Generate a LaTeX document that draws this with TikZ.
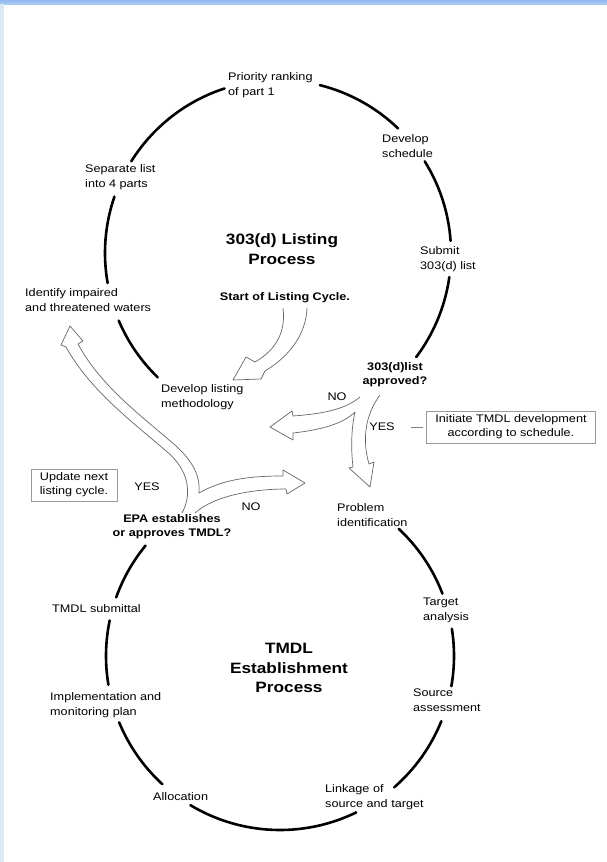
\documentclass[tikz,border=0pt]{standalone}
\usepackage{fontspec}
\setmainfont[FakeStretch=1.15]{Liberation Sans}
\definecolor{barblue}{HTML}{A6CDEF}
\definecolor{stripblue}{HTML}{DCE8F2}
\begin{document}
\begin{tikzpicture}[x=1pt,y=-1pt,
  lbl/.style={font=\fontsize{11}{15}\selectfont, align=left, inner sep=0pt},
  blbl/.style={font=\fontsize{11}{14}\selectfont\bfseries, align=center, inner sep=0pt},
  title/.style={font=\fontsize{15}{19.5}\selectfont\bfseries, align=center, inner sep=0pt},
  notebox/.style={draw=black!40, line width=0.6pt, font=\fontsize{11}{14}\selectfont, inner xsep=9pt, inner ysep=4pt},
  cycarc/.style={line width=2.6pt, line cap=round},
  blockarrow/.style={draw=black!60, line width=0.7pt, fill=white, line join=round}]

% page and frame
\useasboundingbox (0,0) rectangle (607,862);
\fill[white] (0,0) rectangle (607,862);
\shade[top color=barblue!90!blue, bottom color=barblue] (0,0) rectangle (607,4);
\fill[stripblue] (0,4) rectangle (4,862);

% circle centres
\coordinate (upc) at (278,253);
\coordinate (loc) at (280,656);

% listing cycle labels
\node[title] (listtitle) at (282,249) {303(d) Listing\\Process};
\node[blbl] (startcycle) at (285,298) {Start of Listing Cycle.};
\node[lbl, anchor=west] (priority) at (228,85) {Priority ranking\\of part 1};
\node[lbl, anchor=west] (schedule) at (382,146) {Develop\\schedule};
\node[lbl, anchor=west] (submit) at (420,259) {Submit\\303(d) list};
\node[blbl] (approved) at (395,375) {303(d)list\\approved?};
\node[lbl, anchor=west] (separate) at (85,177) {Separate list\\into 4 parts};
\node[lbl, anchor=west] (identify) at (25,300) {Identify impaired\\and threatened waters};
\node[lbl, anchor=west] (method) at (161,397) {Develop listing\\methodology};

% listing cycle arcs
\draw[cycarc] ([shift={(-76:173)}]upc) arc[start angle=-76, end angle=-46, radius=173];
\draw[cycarc] ([shift={(-32:173)}]upc) arc[start angle=-32, end angle=-4, radius=173];
\draw[cycarc] ([shift={(8:173)}]upc) arc[start angle=8, end angle=37, radius=173];
\draw[cycarc] ([shift={(-108:173)}]upc) arc[start angle=-108, end angle=-148, radius=173];
\draw[cycarc] ([shift={(-161:173)}]upc) arc[start angle=-161, end angle=-190, radius=173];
\draw[cycarc] ([shift={(-203:173)}]upc) arc[start angle=-203, end angle=-226, radius=173];

% establishment labels
\node[title] (tmdltitle) at (289,668) {TMDL\\Establishment\\Process};
\node[lbl, anchor=west] (problem) at (337,515) {Problem\\identification};
\node[lbl, anchor=west] (target) at (423,610) {Target\\analysis};
\node[lbl, anchor=west] (source) at (413,700) {Source\\assessment};
\node[lbl, anchor=west] (linkage) at (325,797) {Linkage of\\source and target};
\node[lbl, anchor=west] (allocation) at (153,797) {Allocation};
\node[lbl, anchor=west] (implement) at (50,705) {Implementation and\\monitoring plan};
\node[lbl, anchor=west] (submittal) at (52,609) {TMDL submittal};
\node[blbl] (epa) at (172,527) {EPA establishes\\or approves TMDL?};

% establishment arcs
\draw[cycarc] ([shift={(-47:174)}]loc) arc[start angle=-47, end angle=-21, radius=174];
\draw[cycarc] ([shift={(-9:174)}]loc) arc[start angle=-9, end angle=10, radius=174];
\draw[cycarc] ([shift={(22:174)}]loc) arc[start angle=22, end angle=49, radius=174];
\draw[cycarc] ([shift={(64:174)}]loc) arc[start angle=64, end angle=121, radius=174];
\draw[cycarc] ([shift={(132.5:174)}]loc) arc[start angle=132.5, end angle=157.6, radius=174];
\draw[cycarc] ([shift={(170.5:174)}]loc) arc[start angle=170.5, end angle=191.8, radius=174];
\draw[cycarc] ([shift={(199.7:174)}]loc) arc[start angle=199.7, end angle=219.4, radius=174];

% block arrows
\draw[blockarrow] (283,308) .. controls (286,332) and (276,350) .. (255,362) -- (246,357) -- (233,380)
  -- (261,379) -- (265,371) .. controls (290,356) and (306,334) .. (307,308);
\draw[blockarrow] (360,397) .. controls (345,410) and (320,414) .. (293,416) -- (292,411) -- (270,427)
  -- (293,440) -- (293,433) .. controls (320,430) and (343,424) .. (355,412)
  .. controls (351,430) and (351,450) .. (353,467) -- (349,468) -- (370,487) -- (374,462) -- (369,464)
  .. controls (362,440) and (365,415) .. (380,395);
\draw[blockarrow] (182,513) .. controls (192,495) and (190,470) .. (165,450)
  .. controls (130,420) and (90,390) .. (66,347) -- (61,345) -- (70,326) -- (83,341) -- (78,344)
  .. controls (100,385) and (140,415) .. (175,445) .. controls (197,465) and (200,480) .. (199,493)
  .. controls (225,478) and (255,476) .. (283,476) -- (283,470) -- (305,483) -- (287,494) -- (286,489)
  .. controls (255,489) and (215,495) .. (195,513);

% decisions
\node[lbl] (noA) at (337,397) {NO};
\node[lbl] (yesA) at (382,427) {YES};
\node[notebox, align=center] (initbox) at (511,427) {Initiate TMDL development\\according to schedule.};
\draw[black!50, line width=0.6pt, shorten <=16pt, shorten >=3pt] (yesA.east) -- (initbox.west);
\node[lbl] (yesB) at (147,487) {YES};
\node[lbl] (noB) at (251,507) {NO};
\node[notebox, align=left] (updatebox) at (74,485) {Update next\\listing cycle.};

\end{tikzpicture}
\end{document}
